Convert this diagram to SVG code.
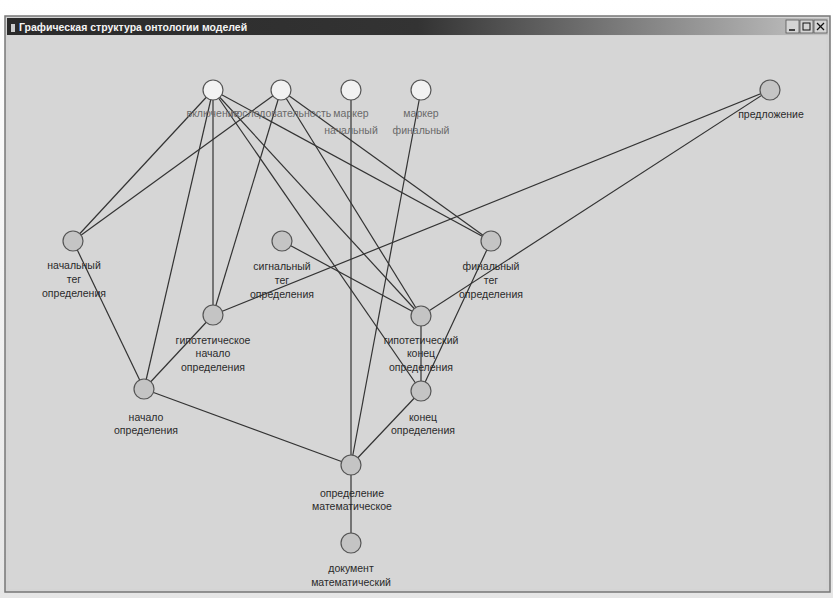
<svg xmlns="http://www.w3.org/2000/svg" width="833" height="598" viewBox="0 0 833 598">
<defs>
<linearGradient id="tb" x1="0" y1="0" x2="1" y2="0">
<stop offset="0" stop-color="#2a2a2a"/>
<stop offset="0.5" stop-color="#333333"/>
<stop offset="0.8" stop-color="#8a8a8a"/>
<stop offset="1" stop-color="#c4c4c4"/>
</linearGradient>
<linearGradient id="top" x1="0" y1="0" x2="0" y2="1">
<stop offset="0" stop-color="#ffffff"/>
<stop offset="1" stop-color="#e6e6e6"/>
</linearGradient>
<style>
.e{stroke:#333;stroke-width:1.2;fill:none}
.w{fill:#f2f2f2;stroke:#555;stroke-width:1.2}
.g{fill:#c4c4c4;stroke:#555;stroke-width:1.2}
.t{font-family:"Liberation Sans",Arial,sans-serif;font-size:10.5px;fill:#2a2a2a;text-anchor:middle}
.tl{font-family:"Liberation Sans",Arial,sans-serif;font-size:10.5px;fill:#6a6a6a;text-anchor:middle}
.btn{fill:#d4d4d4;stroke:#555;stroke-width:0.8}
</style>
</defs>
<rect x="0" y="0" width="833" height="598" fill="url(#top)"/>
<rect x="5" y="16" width="825" height="576" fill="#d4d4d4" stroke="#777" stroke-width="1.5"/>
<rect x="7" y="18" width="821" height="17" fill="url(#tb)"/>
<rect x="11" y="24" width="4" height="8" fill="#ccc"/>
<text x="19" y="30.5" font-family="Liberation Sans,Arial,sans-serif" font-size="10.5" font-weight="bold" fill="#f4f4f4">Графическая структура онтологии моделей</text>
<g id="buttons">
<rect class="btn" x="786" y="20" width="13" height="13"/>
<rect class="btn" x="800" y="20" width="13" height="13"/>
<rect class="btn" x="814" y="20" width="13" height="13"/>
<line x1="789" y1="30" x2="795" y2="30" stroke="#111" stroke-width="1.5"/>
<rect x="803" y="23" width="7" height="7" fill="none" stroke="#111" stroke-width="1"/>
<line x1="817" y1="23" x2="824" y2="30" stroke="#111" stroke-width="1.3"/>
<line x1="824" y1="23" x2="817" y2="30" stroke="#111" stroke-width="1.3"/>
</g>
<rect x="9" y="36" width="817" height="553" fill="#d6d6d6"/>
<g id="connectors">
<line class="e" x1="213" y1="90" x2="73" y2="241"/>
<line class="e" x1="213" y1="90" x2="144" y2="389"/>
<line class="e" x1="213" y1="90" x2="213" y2="315"/>
<line class="e" x1="213" y1="90" x2="421" y2="391"/>
<line class="e" x1="213" y1="90" x2="421" y2="316"/>
<line class="e" x1="213" y1="90" x2="491" y2="241"/>
<line class="e" x1="281" y1="90" x2="73" y2="241"/>
<line class="e" x1="281" y1="90" x2="213" y2="315"/>
<line class="e" x1="281" y1="90" x2="421" y2="316"/>
<line class="e" x1="281" y1="90" x2="491" y2="241"/>
<line class="e" x1="351" y1="90" x2="351" y2="465"/>
<line class="e" x1="421" y1="90" x2="351" y2="465"/>
<line class="e" x1="770" y1="90" x2="213" y2="315"/>
<line class="e" x1="770" y1="90" x2="421" y2="316"/>
<line class="e" x1="73" y1="241" x2="144" y2="389"/>
<line class="e" x1="282" y1="241" x2="421" y2="316"/>
<line class="e" x1="491" y1="241" x2="421" y2="391"/>
<line class="e" x1="213" y1="315" x2="144" y2="389"/>
<line class="e" x1="421" y1="316" x2="421" y2="391"/>
<line class="e" x1="144" y1="389" x2="351" y2="465"/>
<line class="e" x1="421" y1="391" x2="351" y2="465"/>
<line class="e" x1="351" y1="465" x2="351" y2="543"/>
</g>
<g id="n-vkl"><circle class="w" cx="213" cy="90" r="10"/><text class="tl" x="213" y="117">включение</text></g>
<g id="n-posl"><circle class="w" cx="281" cy="90" r="10"/><text class="tl" x="281" y="117">последовательность</text></g>
<g id="n-mn"><circle class="w" cx="351" cy="90" r="10"/><text class="tl" x="351" y="117">маркер</text><text class="tl" x="351" y="134">начальный</text></g>
<g id="n-mf"><circle class="w" cx="421" cy="90" r="10"/><text class="tl" x="421" y="117">маркер</text><text class="tl" x="421" y="134">финальный</text></g>
<g id="n-pred"><circle class="g" cx="770" cy="90" r="10"/><text class="t" x="771" y="118">предложение</text></g>
<g id="n-ntag"><circle class="g" cx="73" cy="241" r="10"/><text class="t" x="74" y="269">начальный</text><text class="t" x="74" y="283">тег</text><text class="t" x="74" y="297">определения</text></g>
<g id="n-stag"><circle class="g" cx="282" cy="241" r="10"/><text class="t" x="282" y="270">сигнальный</text><text class="t" x="282" y="284">тег</text><text class="t" x="282" y="298">определения</text></g>
<g id="n-ftag"><circle class="g" cx="491" cy="241" r="10"/><text class="t" x="491" y="270">финальный</text><text class="t" x="491" y="284">тег</text><text class="t" x="491" y="298">определения</text></g>
<g id="n-gnach"><circle class="g" cx="213" cy="315" r="10"/><text class="t" x="213" y="344">гипотетическое</text><text class="t" x="213" y="357">начало</text><text class="t" x="213" y="371">определения</text></g>
<g id="n-gkon"><circle class="g" cx="421" cy="316" r="10"/><text class="t" x="421" y="344">гипотетический</text><text class="t" x="421" y="357">конец</text><text class="t" x="421" y="371">определения</text></g>
<g id="n-nach"><circle class="g" cx="144" cy="389" r="10"/><text class="t" x="146" y="421">начало</text><text class="t" x="146" y="434">определения</text></g>
<g id="n-kon"><circle class="g" cx="421" cy="391" r="10"/><text class="t" x="423" y="421">конец</text><text class="t" x="423" y="434">определения</text></g>
<g id="n-opr"><circle class="g" cx="351" cy="465" r="10"/><text class="t" x="352" y="497">определение</text><text class="t" x="352" y="510">математическое</text></g>
<g id="n-doc"><circle class="g" cx="351" cy="543" r="10"/><text class="t" x="351" y="572">документ</text><text class="t" x="351" y="586">математический</text></g>
</svg>
